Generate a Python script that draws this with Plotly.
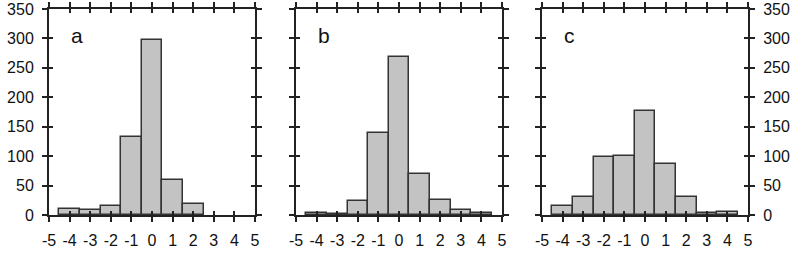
import plotly.graph_objects as go

bins = [-4, -3, -2, -1, 0, 1, 2, 3, 4]
counts_a = [10, 8.5, 16, 132, 298, 60, 18, 0, 0]
counts_b = [3, 2, 23, 139, 268, 70, 25.5, 8, 3]
counts_c = [15, 31, 98, 100, 177.5, 86, 31, 3, 4.5]
panel_labels = ["a", "b", "c"]
x_ticks = [-5, -4, -3, -2, -1, 0, 1, 2, 3, 4, 5]
y_ticks = [0, 50, 100, 150, 200, 250, 300, 350]

W, H = 797, 262
x_px = [(49, 255), (296, 502), (542, 748)]
y_dom = [(H - 215) / H, (H - 9) / H]

FONT = dict(family="Liberation Sans, Arial, sans-serif", size=16, color="#111")
LINE = "#222"

fig = go.Figure()
layout = dict(width=W, height=H, margin=dict(l=0, r=0, t=0, b=0),
              paper_bgcolor="white", plot_bgcolor="white", showlegend=False,
              bargap=0, font=FONT)

series = [counts_a, counts_b, counts_c]
annotations = []
for i, counts in enumerate(series):
    n = i + 1
    no = i + 4
    xs = "" if n == 1 else str(n)
    dom = [x_px[i][0] / W, x_px[i][1] / W]
    line_w = [1.5 if v > 0 else 0 for v in counts]
    fig.add_trace(go.Bar(x=bins, y=counts, width=1,
                         marker=dict(color="#c3c3c3", line=dict(color="#333", width=line_w)),
                         xaxis="x" + xs, yaxis="y" + xs, hoverinfo="skip"))
    fig.add_trace(go.Bar(x=bins, y=counts, width=1, opacity=0,
                         xaxis="x%d" % no, yaxis="y%d" % no, hoverinfo="skip"))
    common = dict(showgrid=False, zeroline=False, showline=True, linecolor=LINE,
                  linewidth=2, tickcolor=LINE, tickwidth=1.5,
                  automargin=False)
    layout["xaxis" + xs] = dict(common, domain=dom, anchor="y" + xs, range=[-5, 5],
                                tickmode="array", tickvals=x_ticks,
                                ticktext=[str(t) for t in x_ticks], ticklen=5,
                                ticks="outside", mirror="ticks", tickfont=FONT,
                                ticklabelstandoff=5)
    layout["yaxis" + xs] = dict(common, domain=y_dom, anchor="x" + xs, range=[0, 350],
                                tickmode="array", tickvals=y_ticks, ticklen=5,
                                ticks="outside", mirror="ticks",
                                side="right" if i == 2 else "left",
                                showticklabels=(i != 1), tickfont=FONT,
                                ticklabelstandoff=5)
    layout["xaxis%d" % no] = dict(common, overlaying="x" + xs, anchor="y%d" % no,
                                  range=[-5, 5], tickmode="array", tickvals=x_ticks,
                                  ticks="inside", ticklen=4, mirror="ticks",
                                  showticklabels=False, showline=False)
    layout["yaxis%d" % no] = dict(common, overlaying="y" + xs, anchor="x%d" % no,
                                  range=[0, 350], tickmode="array", tickvals=y_ticks,
                                  ticks="inside", ticklen=4, mirror="ticks",
                                  showticklabels=False, showline=False)
    annotations.append(dict(x=-4.05, y=305, xref="x" + xs, yref="y" + xs,
                            text=panel_labels[i], showarrow=False, xanchor="left",
                            yanchor="middle",
                            font=dict(family=FONT["family"], size=21, color="#111")))

layout["annotations"] = annotations
fig.update_layout(**layout)
fig.write_html("out.html")
